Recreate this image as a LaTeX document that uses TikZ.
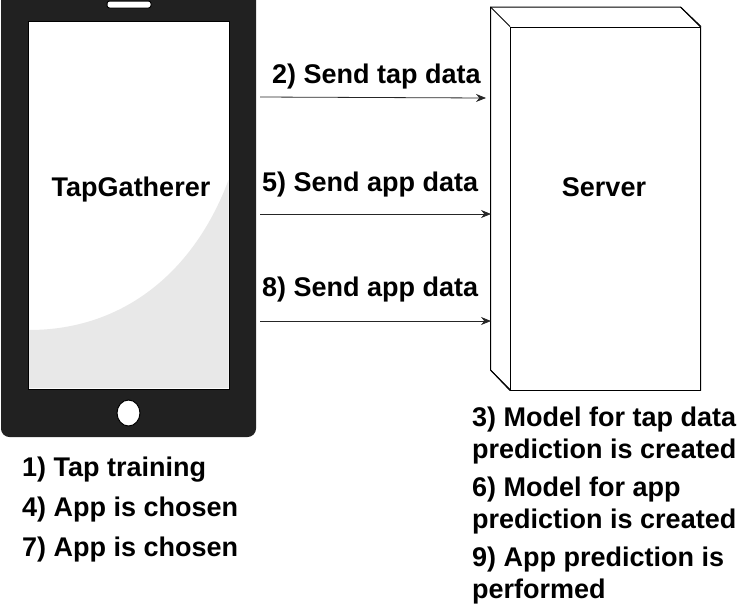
\documentclass[tikz,border=0pt]{standalone}
\usepackage{fontspec}
\setmainfont{Liberation Sans}
\usetikzlibrary{arrows.meta, shapes.geometric}
\begin{document}
\begin{tikzpicture}[
x=1pt, y=-1pt,
body/.style={fill=black!87, draw=black!87, line width=1pt},
screen/.style={rectangle, draw=black, fill=white, line width=1pt, minimum width=201pt, minimum height=368pt, inner sep=0pt},
speaker/.style={rectangle, rounded corners=2.5pt, draw=black, fill=white, line width=1pt, minimum width=44pt, minimum height=7pt, inner sep=0pt},
homebtn/.style={ellipse, draw=black, fill=white, line width=1pt, minimum width=23pt, minimum height=26pt, inner sep=0pt},
front/.style={rectangle, draw=black, fill=white, line width=1pt, minimum width=190pt, minimum height=363pt, inner sep=0pt},
caption/.style={anchor=base west, inner sep=0pt, align=left, font=\fontsize{27}{32}\selectfont\bfseries},
title/.style={anchor=base, inner sep=0pt, font=\fontsize{27}{32}\selectfont\bfseries},
send/.style={line width=0.8pt, black!85, -{Stealth[length=10pt,width=8pt]}}
]
\useasboundingbox (0,0) rectangle (751,606);
\path[body, rounded corners=8pt] (1.5,-12) -- (1.5,436.5) -- (255.5,436.5) -- (255.5,-12) -- cycle;
\node[screen] (screen) at (128.5,205) {};
\fill[black!9] (29,330) .. controls (125,330) and (195,270) .. (228.5,180) -- (228.5,388) -- (29,388) -- cycle;
\node[speaker] (speaker) at (129,4.5) {};
\node[homebtn] (homebtn) at (128.5,413) {};
\node[title] (app) at (131,196) {TapGatherer};

\draw[line width=1pt, fill=white] (490.5,7) -- (680.5,7) -- (700.5,27) -- (700.5,390) -- (510.5,390) -- (490.5,370) -- cycle;
\node[front] (server) at (605.5,208.5) {};
\coordinate (backtl) at (490.5,7);
\coordinate (backtr) at (680.5,7);
\coordinate (backbl) at (490.5,370);
\draw[line width=1pt] (backtl) -- (server.north west);
\draw[line width=1pt] (backtr) -- (server.north east);
\draw[line width=1pt] (backbl) -- (server.south west);
\node[title] (srv) at (604,196) {Server};

\coordinate (a1) at (260,97);
\coordinate (b1) at (486,98);
\coordinate (a2) at (260,214);
\coordinate (b2) at (491,214);
\coordinate (a3) at (260,321);
\coordinate (b3) at (491,321);
\draw[send] (a1) -- (b1);
\draw[send] (a2) -- (b2);
\draw[send] (a3) -- (b3);
\node[caption] (send1) at (272,83) {2) Send tap data};
\node[caption] (send2) at (262,191) {5) Send app data};
\node[caption] (send3) at (262,296) {8) Send app data};

\node[caption] (step1) at (22,476) {1) Tap training};
\node[caption] (step4) at (22,516) {4) App is chosen};
\node[caption] (step7) at (22,556) {7) App is chosen};

\node[caption, anchor=north west] (step3) at (472,407) {3) Model for tap data\\prediction is created};
\node[caption, anchor=north west] (step6) at (472,477) {6) Model for app\\prediction is created};
\node[caption, anchor=north west] (step9) at (472,547) {9) App prediction is\\performed};
\end{tikzpicture}
\end{document}
